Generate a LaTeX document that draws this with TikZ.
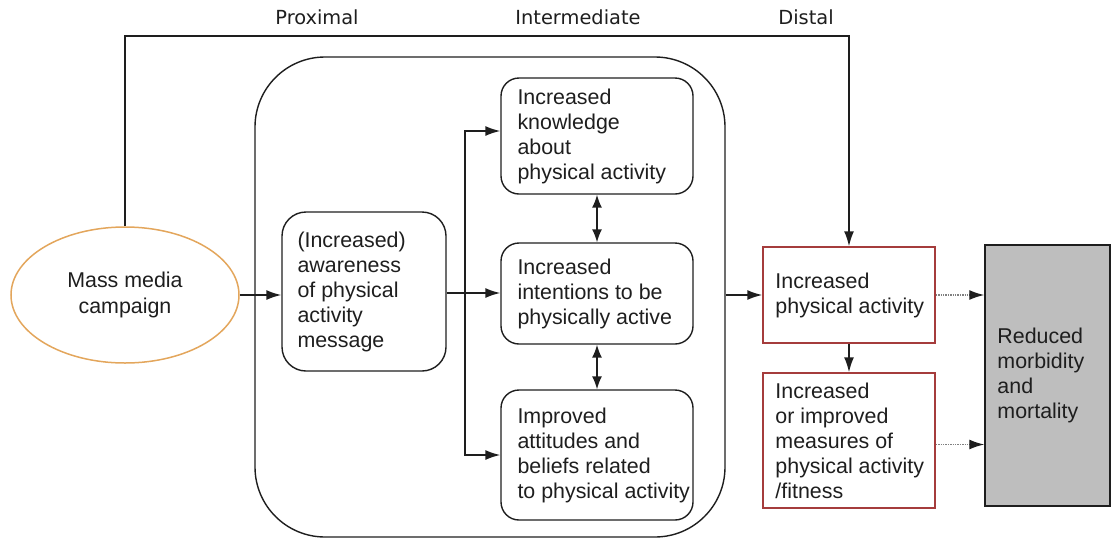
\documentclass[tikz,border=0pt]{standalone}
\usepackage{fontspec}
\setmainfont{Liberation Sans}
\newfontfamily\labfont{DejaVu Sans}
\usetikzlibrary{arrows.meta,shapes.geometric}
\definecolor{ink}{HTML}{1E1E1E}
\definecolor{orangeline}{HTML}{E3A65C}
\definecolor{redline}{HTML}{A53C3C}
\definecolor{grayfill}{HTML}{BEBEBE}
\tikzset{
  ln/.style={draw=ink, line width=1.5pt},
  arr/.style={ln, -{Latex[length=15pt,width=10pt]}},
  darr/.style={ln, {Latex[length=13pt,width=10pt]}-{Latex[length=13pt,width=10pt]}},
  dotarr/.style={draw=gray, line width=1.4pt, densely dotted, -{Latex[length=15pt,width=10pt,color=ink]}},
  rbox/.style={draw=ink, line width=1.4pt, rounded corners=18pt, inner sep=0pt},
  redbox/.style={draw=redline, line width=1.5pt, inner sep=0pt},
  txt/.style={anchor=west, align=left, inner sep=0pt, text=ink, font=\fontsize{21.4}{25}\selectfont},
  lab/.style={inner sep=0pt, text=ink, font=\labfont\fontsize{19.4}{22}\selectfont},
}
\begin{document}
\begin{tikzpicture}[x=1pt, y=-1pt]
\useasboundingbox (0,0) rectangle (1111,539);
% column labels
\node[lab] (lprox) at (317,17) {Proximal};
\node[lab] (linter) at (578,17) {Intermediate};
\node[lab] (ldist) at (806,17) {Distal};
% container
\node[draw=ink, line width=1.4pt, rounded corners=70pt, minimum width=470pt, minimum height=480pt, inner sep=0pt] (cont) at (490,297) {};
% ellipse
\node[ellipse, draw=orangeline, line width=1.5pt, minimum width=228pt, minimum height=136pt, inner sep=0pt, align=center, text=ink, font=\fontsize{21.4}{26}\selectfont] (ell) at (125,295) {Mass media\\campaign};
% boxes
\node[rbox, rounded corners=24pt, minimum width=164pt, minimum height=159pt] (aware) at (364,291.5) {};
\node[txt] (awaret) at ([xshift=16pt]aware.west) {(Increased)\\awareness\\of physical\\activity\\message};
\node[rbox, minimum width=192pt, minimum height=116pt] (know) at (597,136) {};
\node[txt] (knowt) at ([xshift=17pt]know.west) {Increased\\knowledge\\about\\physical activity};
\node[rbox, minimum width=192pt, minimum height=101pt] (inten) at (597,293.5) {};
\node[txt] (intent) at ([xshift=17pt]inten.west) {Increased\\intentions to be\\physically active};
\node[rbox, minimum width=192pt, minimum height=130pt] (attit) at (597,455) {};
\node[txt] (attitt) at ([xshift=17pt]attit.west) {Improved\\attitudes and\\beliefs related\\to physical activity};
\node[redbox, minimum width=172pt, minimum height=96pt] (red1) at (849,295) {};
\node[txt] (red1t) at ([xshift=13pt]red1.west) {Increased\\physical activity};
\node[redbox, minimum width=172pt, minimum height=135pt] (red2) at (849,440.5) {};
\node[txt] (red2t) at ([xshift=13pt]red2.west) {Increased\\or improved\\measures of\\physical activity\\/fitness};
\node[draw=ink, line width=1.5pt, fill=grayfill, minimum width=125pt, minimum height=261pt, inner sep=0pt] (gray) at (1047.5,375.5) {};
\node[txt] (grayt) at ([xshift=13pt]gray.west) {Reduced\\morbidity\\and\\mortality};
% connectors
\coordinate (topy) at (0,36);
\draw[arr] (ell.north) -- (ell.north |- topy) -| (red1.north);
\draw[arr] (ell.east) -- (ell.east -| aware.west);
\coordinate (br) at (465,293);
\draw[arr] (aware.east |- br) -- (inten.west |- br);
\draw[arr] (br) |- ([yshift=5pt]know.west);
\draw[arr] (br) |- (attit.west);
\draw[darr] (know.south) -- (inten.north);
\draw[darr] (inten.south) -- (attit.north);
\draw[arr] (cont.east |- red1.west) -- (red1.west);
\draw[arr] (red1.south) -- (red2.north);
\draw[dotarr] (red1.east) -- (red1.east -| gray.west);
\draw[dotarr] ([yshift=-4pt]red2.east) -- ([yshift=-4pt]red2.east -| gray.west);
\end{tikzpicture}
\end{document}
